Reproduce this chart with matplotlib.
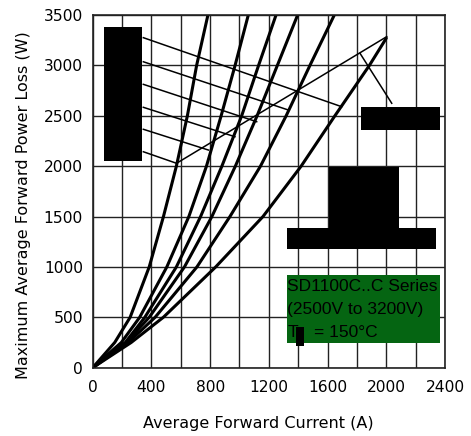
import matplotlib
matplotlib.use("Agg")
import matplotlib.pyplot as plt
from matplotlib.patches import Rectangle

# ---- data ----
power_levels = [0, 250, 500, 1000, 1500, 2000, 2500, 3000, 3500]
current_30 = [0, 150, 255, 385, 482, 570, 645, 708, 785]
current_60 = [0, 195, 320, 505, 655, 775, 875, 970, 1060]
current_90 = [0, 222, 355, 570, 735, 880, 1015, 1130, 1249]
current_120 = [0, 228, 385, 625, 812, 972, 1120, 1258, 1396]
current_180 = [0, 242, 425, 710, 935, 1143, 1318, 1480, 1646]
dc_current = [0, 262, 481, 838, 1160, 1420, 1650, 1885, 2000]
dc_power = [0, 250, 500, 1000, 1500, 2000, 2500, 3000, 3270]

# RMS limit line
rms_current = [573, 2003]
rms_power = [2030, 3285]

# leader lines from the (redacted) label column
leader_start_x = [345, 345, 345, 345, 345, 345]
leader_start_y = [3275, 3036, 2812, 2584, 2366, 2143]
leader_end_x = [1696, 1333, 1117, 969, 788, 572]
leader_end_y = [2590, 2557, 2441, 2292, 2160, 2028]
rms_leader_x = [1821, 2037]
rms_leader_y = [3120, 2624]

x_ticks = [0, 400, 800, 1200, 1600, 2000, 2400]
y_ticks = [0, 500, 1000, 1500, 2000, 2500, 3000, 3500]

W, H = 471, 436
fig = plt.figure(figsize=(W / 100, H / 100), dpi=100)
ax = fig.add_axes([92.7 / W, 1 - 367.7 / H, 352.3 / W, 352.7 / H])
ax.set_xlim(0, 2400)
ax.set_ylim(0, 3500)
ax.set_xticks(x_ticks)
ax.set_xticks(range(0, 2401, 200), minor=True)
ax.set_yticks(y_ticks)
ax.grid(True, which="both", color="#222222", lw=1.0, zorder=1)
ax.set_axisbelow(True)
for s in ax.spines.values():
    s.set_color("#222222")
    s.set_linewidth(1.2)
ax.tick_params(which="both", length=0)
ax.tick_params(axis="x", pad=9, labelsize=11.2)
ax.tick_params(axis="y", pad=7, labelsize=11.2)

for cur in [current_30, current_60, current_90, current_120, current_180]:
    ax.plot(cur, power_levels, color="black", lw=2.2, zorder=2.5,
            solid_joinstyle="round", solid_capstyle="round")
ax.plot(dc_current, dc_power, color="black", lw=2.2, zorder=2.5,
        solid_joinstyle="round", solid_capstyle="round")

ax.plot(rms_current, rms_power, color="black", lw=1.1, zorder=2.4)
for x0, y0, x1, y1 in zip(leader_start_x, leader_start_y, leader_end_x, leader_end_y):
    ax.plot([x0, x1], [y0, y1], color="black", lw=1.1, zorder=2.4)
ax.plot(rms_leader_x, rms_leader_y, color="black", lw=1.1, zorder=2.4)

# redacted label blocks
blocks = [
    (79, 2054, 336 - 79, 3381 - 2054),
    (1828, 2359, 2367 - 1828, 2584 - 2359),
    (1610, 1383, 2087 - 1610, 1994 - 1383),
    (1326, 1178, 2339 - 1326, 1383 - 1178),
]
for (x, y, w, h) in blocks:
    ax.add_patch(Rectangle((x, y), w, h, color="black", zorder=3, lw=0))

ax.add_patch(Rectangle((1324, 242), 2367 - 1324, 920 - 242,
                       color="#056512", zorder=3, lw=0))
ax.add_patch(Rectangle((1386, 218), 1440 - 1386, 407 - 218,
                       color="black", zorder=5, lw=0))

box_font = dict(family="Liberation Sans", fontsize=12.5, color="black",
                va="center", ha="left", zorder=4)
fig.text(287.3 / W, 1 - 286.7 / H, "SD1100C..C Series", **box_font)
fig.text(287.3 / W, 1 - 309.5 / H, "(2500V to 3200V)", **box_font)
fig.text(287.3 / W, 1 - 332 / H, "T", **box_font)
fig.text(313.5 / W, 1 - 332 / H, "= 150°C", **box_font)

fig.text(258 / W, 1 - 423 / H, "Average Forward Current (A)",
         ha="center", va="center", fontsize=11.5)
fig.text(24 / W, 1 - 205 / H, "Maximum Average Forward Power Loss (W)",
         ha="center", va="center", rotation=90, fontsize=11.5)

fig.savefig("out.png", dpi=100)
